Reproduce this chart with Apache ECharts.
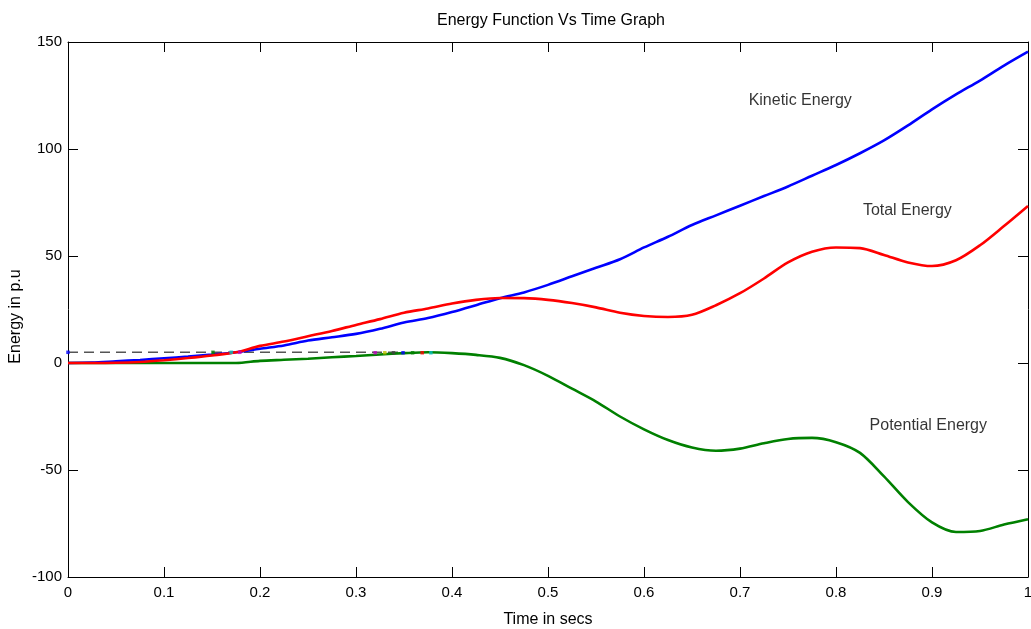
<!DOCTYPE html>
<html>
<head>
<meta charset="utf-8">
<title>Energy Function Vs Time Graph</title>
<script src="https://cdn.jsdelivr.net/npm/echarts@6/dist/echarts.min.js"></script>
<style>
  html, body { margin: 0; padding: 0; background: #ffffff; overflow: hidden; }
  #chart { width: 1031px; height: 629px; }
</style>
</head>
<body>
<div id="chart"></div>
<script>
// Sample times (s)
const timeSecs = [0, 0.025, 0.05, 0.075, 0.1, 0.125, 0.15, 0.175, 0.2, 0.225, 0.25, 0.275, 0.3, 0.325, 0.35, 0.375, 0.4, 0.425, 0.45, 0.475, 0.5, 0.525, 0.55, 0.575, 0.6, 0.625, 0.65, 0.675, 0.7, 0.725, 0.75, 0.775, 0.8, 0.825, 0.85, 0.875, 0.9, 0.925, 0.95, 0.975, 1.0];

// Energies in p.u.
const kineticEnergy = [0, 0.2, 0.8, 1.4, 2.2, 3.0, 3.9, 5.0, 6.7, 8.2, 10.5, 12, 13.6, 16, 18.9, 21, 23.8, 27, 30.3, 33, 36.5, 40.5, 44.5, 48.5, 54, 59, 64.5, 69, 73.5, 78, 82.5, 87.5, 92.5, 98, 104, 111, 118.5, 125.5, 132, 139, 145.5];
const totalEnergy = [0, 0, 0.1, 0.5, 1.3, 2.3, 3.5, 5.0, 8.0, 10, 12.5, 15, 17.8, 20.5, 23.5, 25.5, 27.8, 29.5, 30.4, 30.3, 29.5, 28, 26, 23.5, 22, 21.5, 22.5, 27, 32.6, 39.5, 47, 52, 54, 53.7, 50.5, 47, 45.3, 48, 55, 64, 73.4];
const potentialEnergy = [0, 0, 0, 0, 0, 0, 0, 0, 1, 1.5, 2, 2.7, 3.3, 4, 4.6, 5, 4.6, 3.8, 2.4, -1, -6, -12, -18, -25, -31, -36, -39.5, -41, -40, -37.5, -35.5, -35, -37, -42, -53, -65, -74.5, -79, -78.5, -75.5, -73];

// Reference level line
const referenceLevel = [[0, 5], [0.346, 5]];

// Small colored markers near the reference level: [time, energy, color]
const markerPoints = [
  [0, 5, '#0000ff'], [0.151, 5, '#008000'], [0.170, 5, '#00bfbf'], [0.179, 5, '#bf00bf'],
  [0.320, 4.8, '#bf00bf'], [0.330, 4.8, '#bfbf00'], [0.339, 4.8, '#404040'], [0.349, 4.8, '#0000ff'],
  [0.359, 4.8, '#008000'], [0.369, 4.8, '#ff0000'], [0.378, 4.8, '#00bfbf']
];

// Curve annotations: [time, energy, text]
const curveNotes = [
  [0.709, 122.4, 'Kinetic Energy'],
  [0.828, 71, 'Total Energy'],
  [0.835, -29.4, 'Potential Energy']
];

const xTicks = { min: 0, max: 1, interval: 0.1 };
const yTicks = { min: -100, max: 150, interval: 50 };

const zip = (xs, ys) => xs.map((x, i) => [x, ys[i]]);
const FONT = 'Liberation Sans, Arial, sans-serif';

const chart = echarts.init(document.getElementById('chart'), null, { renderer: 'canvas' });

const baseAxis = {
  axisLine: { show: true, onZero: false, lineStyle: { color: '#000', width: 1 } },
  axisTick: { show: true, inside: true, length: 10, lineStyle: { color: '#000', width: 1 } },
  splitLine: { show: false }
};

chart.setOption({
  animation: false,
  backgroundColor: '#ffffff',
  title: {
    text: 'Energy Function Vs Time Graph',
    left: 546, top: 8, textAlign: 'center',
    textStyle: { fontFamily: FONT, fontSize: 16, fontWeight: 'normal', color: '#000' }
  },
  // Plot box fixed in pixels; labels may sit outside it
  grid: { left: 68, right: 3, top: 42, bottom: 52, containLabel: false, outerBoundsMode: 'none' },
  xAxis: [
    Object.assign({}, baseAxis, {
      type: 'value', position: 'bottom', min: xTicks.min, max: xTicks.max, interval: xTicks.interval,
      name: 'Time in secs', nameLocation: 'middle', nameGap: 35, nameMoveOverlap: false,
      nameTextStyle: { fontFamily: FONT, fontSize: 16, color: '#000' },
      axisLabel: { fontFamily: FONT, fontSize: 15, color: '#000', margin: 8 }
    }),
    Object.assign({}, baseAxis, {
      type: 'value', position: 'top', min: xTicks.min, max: xTicks.max, interval: xTicks.interval,
      axisLabel: { show: false }
    })
  ],
  yAxis: [
    Object.assign({}, baseAxis, {
      type: 'value', position: 'left', min: yTicks.min, max: yTicks.max, interval: yTicks.interval,
      name: 'Energy in p.u', nameLocation: 'middle', nameGap: 44, nameRotate: 90, nameMoveOverlap: false,
      nameTextStyle: { fontFamily: FONT, fontSize: 16, color: '#000', padding: [0, 14, 0, 0] },
      axisLabel: { fontFamily: FONT, fontSize: 15, color: '#000', margin: 6 }
    }),
    Object.assign({}, baseAxis, {
      type: 'value', position: 'right', min: yTicks.min, max: yTicks.max, interval: yTicks.interval,
      axisLabel: { show: false }
    })
  ],
  series: [
    {
      name: 'Reference', type: 'line', data: referenceLevel, symbol: 'none',
      lineStyle: { color: '#555', width: 1.4, type: [10, 6] }, z: 1
    },
    {
      name: 'Potential Energy', type: 'line', data: zip(timeSecs, potentialEnergy),
      symbol: 'none', smooth: 0.3, lineStyle: { color: '#008000', width: 2.6 }, z: 2
    },
    {
      name: 'Kinetic Energy', type: 'line', data: zip(timeSecs, kineticEnergy),
      symbol: 'none', smooth: 0.3, lineStyle: { color: '#0000ff', width: 2.6 }, z: 3
    },
    {
      name: 'Total Energy', type: 'line', data: zip(timeSecs, totalEnergy),
      symbol: 'none', smooth: 0.3, lineStyle: { color: '#ff0000', width: 2.6 }, z: 4
    },
    {
      name: 'Markers', type: 'scatter', symbol: 'rect', symbolSize: 3.5, z: 5,
      data: markerPoints.map(p => ({ value: [p[0], p[1]], itemStyle: { color: p[2] } }))
    },
    {
      name: 'Notes', type: 'scatter', symbolSize: 0, z: 6, silent: true,
      data: curveNotes.map(n => ({ value: [n[0], n[1]], name: n[2] })),
      label: {
        show: true, position: 'right', distance: 0, formatter: '{b}',
        fontFamily: FONT, fontSize: 16, color: '#000'
      }
    }
  ]
});
</script>
</body>
</html>
